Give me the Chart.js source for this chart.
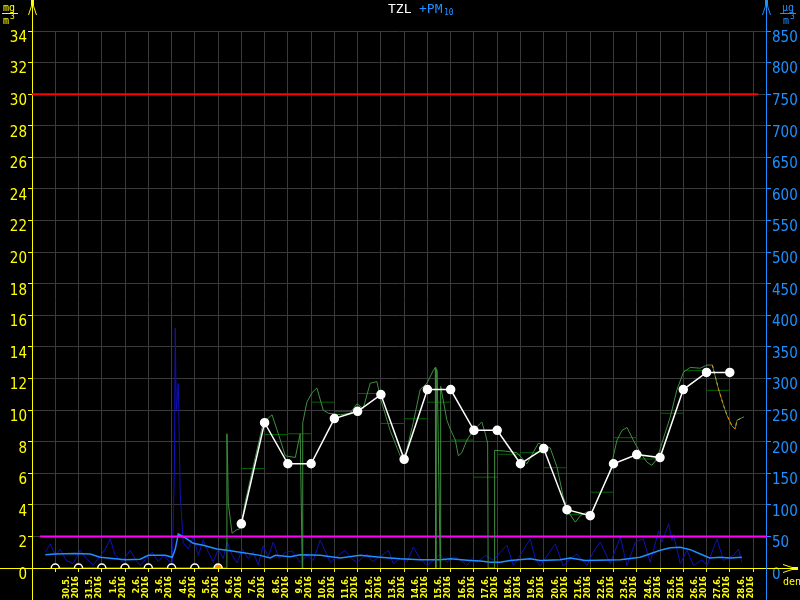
<!DOCTYPE html>
<html>
<head>
<meta charset="utf-8">
<script src="https://cdn.jsdelivr.net/npm/chart.js@4"></script>
<style>
  body { margin: 0; background: #000; }
  #wrap { width: 800px; height: 600px; }
</style>
</head>
<body>
<div id="wrap"><canvas id="canvas" width="800" height="600"></canvas></div>
<script>
// x values are days counted from 30.5.2016 00:00
var dayLabels = ['30.5.','31.5.','1.6.','2.6.','3.6.','4.6.','5.6.','6.6.','7.6.','8.6.','9.6.','10.6.',
  '11.6.','12.6.','13.6.','14.6.','15.6.','16.6.','17.6.','18.6.','19.6.','20.6.','21.6.','22.6.',
  '23.6.','24.6.','25.6.','26.6.','27.6.','28.6.'];
var yearLabel = '2016';

// TZL daily values (white)
var dayTimes = [8,9,10,11,12,13,14,15,16,17,18,19,20,21,22,23,24,25,26,27,28,29];
var dayValues = [2.8,9.2,6.6,6.6,9.46,9.92,10.98,6.88,11.3,11.3,8.72,8.72,6.6,7.56,3.69,3.31,6.6,7.18,6.99,11.3,12.38,12.38];

// days without data (markers on axis)
var missingDays = [0,1,2,3,4,5,6,7];

// TZL daily means (dark green steps), one per day from 30.5.
var stepValues = [0,0,0,0,0,0,0,1.9,6.3,8.45,8.5,10.5,9.9,11.05,9.15,9.45,10.5,8.1,5.75,7.2,7.3,6.35,3.4,4.8,8.25,6.9,9.8,12.5,11.25];

// TZL hourly (green)
var tzlTimes = [0,7.35,7.38,7.41,7.44,7.6,7.78,7.95,8.0,8.17,8.6,8.94,9.32,9.59,9.89,10.32,10.53,10.62,10.64,10.82,
  11.04,11.25,11.52,11.74,12.25,12.68,12.97,13.24,13.54,13.83,13.97,14.4,14.83,15.05,15.39,15.69,15.98,16.25,16.34,16.36,
  16.38,16.42,16.55,16.57,16.84,16.98,17.2,17.33,17.48,17.7,17.97,18.34,18.49,18.59,18.61,18.87,18.89,19.35,19.85,20.28,
  20.77,21.28,21.57,21.84,22.06,22.36,22.57,22.86,23.07,23.43,23.86,24.15,24.36,24.58,24.85,25.15,25.44,25.65,25.87,26.08,
  26.44,26.73,27.01,27.3,27.73,28.02,28.25,28.38,28.52,28.73,28.88,29.09,29.23,29.31,29.59];
var tzlValues = [0,0,8.5,6.6,4.1,2.2,2.4,2.5,2.8,4.2,7.0,9.2,9.7,8.5,7.1,7.0,8.5,0,9.2,10.5,
  11.1,11.4,10.0,9.8,9.7,9.8,10.4,10.1,11.7,11.8,10.8,8.7,7.1,7.1,9.2,11.3,11.7,12.5,12.7,0,
  12.6,12.5,0,11.5,9.35,8.8,8.1,7.1,7.3,8.1,8.7,9.25,8.5,7.9,0,0,7.45,7.4,7.3,6.6,
  7.9,7.6,6.4,4.5,3.55,2.9,3.3,3.55,3.45,4.7,6.2,8.1,8.7,8.9,8.1,7.3,6.7,6.5,6.9,7.9,
  9.56,11.3,12.4,12.7,12.65,12.85,12.85,12.1,11.3,10.3,9.67,9.0,8.8,9.35,9.56];

// PM10 hourly (dark blue), µg/m3
var pmTimes = [-0.43,-0.21,0,0.21,0.47,0.77,1.07,1.33,1.63,1.93,2.15,2.36,2.58,2.88,3.22,3.48,3.65,3.91,4.17,4.43,
  4.64,4.86,5.03,5.12,5.16,5.2,5.29,5.37,5.5,5.72,5.93,6.15,6.36,6.58,6.79,7.01,7.22,7.39,7.61,7.82,
  8.04,8.3,8.51,8.73,8.94,9.16,9.37,9.63,9.89,10.18,10.53,10.83,11.09,11.39,11.82,12.17,12.47,12.73,12.97,13.4,
  13.63,13.97,14.32,14.53,14.83,15.13,15.39,15.69,15.98,16.25,16.55,16.84,17.11,17.41,17.7,17.93,18.13,18.49,18.83,19.13,
  19.42,19.69,19.99,20.28,20.42,20.64,20.85,21.15,21.5,21.84,22.14,22.43,22.86,23.13,23.43,23.86,24.29,24.58,24.94,25.28,
  25.58,25.94,26.08,26.37,26.51,26.58,26.87,27.16,27.44,27.8,28.02,28.45,28.73,29.16,29.38,29.52];
var pmValues = [25,38,20,30,12,7,28,15,5,18,30,46,20,10,28,12,4,15,25,10,
  20,12,8,150,380,250,292,120,40,30,50,20,44,25,10,30,15,41,20,8,
  30,15,25,5,35,18,41,15,25,27,9,20,12,44,9,20,28,15,9,22,
  10,18,28,7,15,10,33,15,4,12,22,9,18,13,4,15,9,20,12,25,
  36,4,20,38,46,15,3,20,38,3,15,22,4,25,41,7,49,4,41,46,
  9,59,41,70,44,53,7,28,4,13,4,46,12,20,30,9];

// PM10 running mean (light blue)
var pmAvgTimes = [-0.43,0,0.86,1.5,1.93,3.01,3.65,4,4.73,5.03,5.16,5.29,5.66,5.93,6.36,6.95,7.38,7.95,8.81,9.24,
  9.46,10.1,10.53,11.39,12.25,13.11,13.97,14.83,15.69,16.55,16.98,17.84,18.27,18.7,19.13,19.56,20.42,20.85,21.71,22.14,
  22.79,24.29,25.15,25.58,26.01,26.44,26.87,27.3,27.71,28.14,28.58,29.02,29.52];
var pmAvgValues = [21,22,23,22,17,13,14,20,20,17,30,54,46,39,36,30,28,25,20,16,
  20,18,21,20,16,20,17,14.5,13,13,14.5,12,11,9,9,12,14.5,12,13,16,
  12,13,17,22.5,28,32,33,29,22.5,16,17,16,17];

// limit lines (mg/m3)
var limitRed = 30;
var limitMagenta = 2;

var YELLOW = '#ffff00';
var BLUE = '#1e90ff';
var GRID = '#3a3a3a';

function pts(xs, ys) {
  return xs.map(function (x, i) { return { x: x, y: ys[i] }; });
}

var stepData = [];
stepValues.forEach(function (v, i) {
  stepData.push({ x: i, y: v });
  stepData.push({ x: i + 1, y: v });
  stepData.push({ x: i + 1, y: null });
});

var orangeData = pts(tzlTimes, tzlValues).filter(function (p) { return p.x >= 28.2; });

// label ticks sit in the middle of each day, grid ticks on day boundaries
function buildTicks(axis) {
  var t = [];
  for (var k = 0; k <= 30; k++) {
    t.push({ value: k });
    if (k < 30) t.push({ value: k + 0.5 });
  }
  axis.ticks = t;
}

var decor = {
  id: 'decor',
  beforeDatasetsDraw: function (chart) {
    var c = chart.ctx;
    c.save();
    c.lineWidth = 1;
    // left axis
    c.strokeStyle = YELLOW;
    c.beginPath(); c.moveTo(32.5, 2); c.lineTo(32.5, 600); c.stroke();
    c.beginPath(); c.moveTo(28.5, 15); c.lineTo(32.5, 3); c.lineTo(36.5, 15); c.stroke();
    c.fillStyle = YELLOW; c.fillRect(31, 0, 3, 5);
    // x axis
    c.beginPath(); c.moveTo(0, 568.5); c.lineTo(796, 568.5); c.stroke();
    c.beginPath(); c.moveTo(783, 564.5); c.lineTo(795, 568.5); c.lineTo(783, 572.5); c.stroke();
    c.fillRect(792, 567, 6, 3);
    // right axis
    c.strokeStyle = BLUE; c.fillStyle = BLUE;
    c.beginPath(); c.moveTo(766.5, 2); c.lineTo(766.5, 600); c.stroke();
    c.beginPath(); c.moveTo(762.5, 15); c.lineTo(766.5, 3); c.lineTo(770.5, 15); c.stroke();
    c.fillRect(765, 0, 3, 5);
    c.restore();
  },
  afterDraw: function (chart) {
    var c = chart.ctx;
    c.save();
    c.textBaseline = 'alphabetic';
    c.textAlign = 'left';
    // title
    c.font = "13px 'DejaVu Sans Mono'";
    c.fillStyle = '#ffffff';
    c.fillText('TZL', 388, 13);
    c.fillStyle = BLUE;
    c.fillText('+PM', 419, 13);
    c.font = "8px 'DejaVu Sans Mono'";
    c.fillText('10', 444, 15);
    // units
    c.font = "10px 'DejaVu Sans Mono'";
    c.fillStyle = YELLOW; c.strokeStyle = YELLOW;
    c.fillText('mg', 3, 11);
    c.beginPath(); c.moveTo(2, 13.5); c.lineTo(18, 13.5); c.stroke();
    c.fillText('m', 3, 24);
    c.font = "8px 'DejaVu Sans Mono'"; c.fillText('3', 10, 19);
    c.font = "10px 'DejaVu Sans Mono'";
    c.fillText('den', 783, 585);
    c.fillStyle = BLUE; c.strokeStyle = BLUE;
    c.fillText('\u00b5g', 782, 11);
    c.beginPath(); c.moveTo(780, 13.5); c.lineTo(796, 13.5); c.stroke();
    c.fillText('m', 783, 24);
    c.font = "8px 'DejaVu Sans Mono'"; c.fillText('3', 790, 19);
    c.restore();
  }
};

var tickFont = { family: "'Liberation Sans Narrow','DejaVu Sans Condensed',sans-serif", size: 15 };

const ctx = document.getElementById('canvas').getContext('2d');
const chart = new Chart(ctx, {
  type: 'line',
  data: {
    datasets: [
      {
        label: 'missing',
        data: missingDays.map(function (d) { return { x: d, y: 0 }; }),
        showLine: false,
        pointRadius: 4,
        pointBackgroundColor: missingDays.map(function (d, i) { return i === 7 ? '#ff8c00' : '#000'; }),
        pointBorderColor: '#ffffff',
        pointBorderWidth: 1.5,
        yAxisID: 'y'
      },
      {
        label: 'TZL den',
        data: pts(dayTimes, dayValues),
        borderColor: '#ffffff',
        borderWidth: 1.5,
        pointRadius: 4,
        pointBackgroundColor: '#ffffff',
        pointBorderColor: '#ffffff',
        tension: 0,
        yAxisID: 'y'
      },
      {
        label: 'TZL orange',
        data: orangeData,
        borderColor: '#ff8c00',
        borderWidth: 1,
        borderDash: [3, 3],
        pointRadius: 0,
        yAxisID: 'y'
      },
      {
        label: 'TZL',
        data: pts(tzlTimes, tzlValues),
        borderColor: '#3f8f3f',
        borderWidth: 1,
        pointRadius: 0,
        tension: 0,
        yAxisID: 'y'
      },
      {
        label: 'TZL prumer',
        data: stepData,
        borderColor: '#006400',
        borderWidth: 1,
        pointRadius: 0,
        spanGaps: false,
        yAxisID: 'y'
      },
      {
        label: 'limit 30',
        data: [{ x: -1, y: limitRed }, { x: 30.22, y: limitRed }],
        borderColor: '#ff0000',
        borderWidth: 2,
        pointRadius: 0,
        yAxisID: 'y'
      },
      {
        label: 'limit 2',
        data: [{ x: -0.65, y: limitMagenta }, { x: 30.6, y: limitMagenta }],
        borderColor: '#ff00ff',
        borderWidth: 2,
        pointRadius: 0,
        yAxisID: 'y'
      },
      {
        label: 'PM10 prumer',
        data: pts(pmAvgTimes, pmAvgValues),
        borderColor: BLUE,
        borderWidth: 1.5,
        pointRadius: 0,
        yAxisID: 'y2'
      },
      {
        label: 'PM10',
        data: pts(pmTimes, pmValues),
        borderColor: '#1010b8',
        borderWidth: 1,
        pointRadius: 0,
        yAxisID: 'y2'
      }
    ]
  },
  options: {
    responsive: false,
    animation: false,
    layout: { padding: { top: 31, left: 0, right: 0, bottom: 0 } },
    plugins: { legend: { display: false }, tooltip: { enabled: false } },
    scales: {
      x: {
        type: 'linear',
        min: -1,
        max: 30.6,
        afterBuildTicks: buildTicks,
        afterFit: function (s) { s.height = 32; },
        border: { display: false },
        grid: {
          color: function (c) { return Number.isInteger(c.tick && c.tick.value) ? GRID : 'rgba(0,0,0,0)'; },
          tickColor: function (c) { return Number.isInteger(c.tick && c.tick.value) ? YELLOW : 'rgba(0,0,0,0)'; },
          tickLength: 4
        },
        ticks: {
          autoSkip: false,
          minRotation: 90,
          maxRotation: 90,
          padding: 4,
          color: YELLOW,
          font: { family: "'Liberation Sans Narrow','DejaVu Sans Condensed',sans-serif", size: 9, weight: 'bold', lineHeight: 1 },
          callback: function (v) {
            if (Number.isInteger(v)) return '';
            var i = Math.floor(v);
            return [dayLabels[i], yearLabel];
          }
        }
      },
      y: {
        position: 'left',
        min: 0,
        max: 34,
        afterFit: function (s) { s.width = 32; },
        border: { display: false },
        grid: { color: GRID, tickColor: YELLOW, tickLength: 4 },
        ticks: { stepSize: 2, color: YELLOW, padding: 1, labelOffset: 7, font: tickFont }
      },
      y2: {
        position: 'right',
        min: 0,
        max: 850,
        afterFit: function (s) { s.width = 33; },
        border: { display: false },
        grid: { drawOnChartArea: false, tickColor: BLUE, tickLength: 4 },
        ticks: { stepSize: 50, color: BLUE, padding: 1, labelOffset: 7, font: tickFont }
      }
    }
  },
  plugins: [decor]
});
</script>
</body>
</html>
